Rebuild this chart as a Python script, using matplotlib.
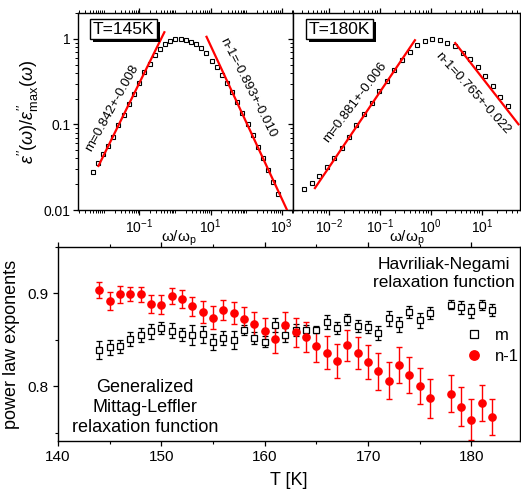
import numpy as np
import matplotlib
matplotlib.use("Agg")
import matplotlib.pyplot as plt
from matplotlib.ticker import LogLocator, FixedLocator, FixedFormatter, MultipleLocator, NullFormatter
import matplotlib.patheffects as pe

plt.rcParams['font.family'] = ['Liberation Sans', 'DejaVu Sans']
plt.rcParams['mathtext.fontset'] = 'custom'
plt.rcParams['mathtext.rm'] = 'Liberation Sans'
plt.rcParams['mathtext.it'] = 'Liberation Sans:italic'
plt.rcParams['mathtext.bf'] = 'Liberation Sans:bold'

# ---------------- data: top-left spectrum (T=145K) ----------------
w145 = [10**v for v in [-2.296, -2.155, -2.014, -1.882, -1.732, -1.592, -1.442, -1.301, -1.161,
                        -1.008, -0.859, -0.710, -0.569, -0.417, -0.276, -0.146, 0.006, 0.155,
                        0.296, 0.445, 0.586, 0.73, 0.879, 1.028, 1.169, 1.310, 1.459, 1.600,
                        1.752, 1.893, 2.042, 2.183, 2.332, 2.473, 2.625, 2.766, 2.907]]
e145 = [0.028, 0.0357, 0.0452, 0.0565, 0.072, 0.0995, 0.130, 0.172, 0.227,
        0.303, 0.404, 0.514, 0.645, 0.758, 0.875, 0.945, 0.985, 0.99,
        0.97, 0.92, 0.86, 0.785, 0.686, 0.549, 0.462, 0.379, 0.303, 0.236,
        0.182, 0.135, 0.1005, 0.0742, 0.055, 0.0401, 0.0293, 0.0215, 0.0154]

# ---------------- data: top-right spectrum (T=180K) ----------------
w180 = [10**v for v in [-2.486, -2.337, -2.200, -2.043, -1.898, -1.749, -1.604, -1.461, -1.310,
                        -1.161, -1.010, -0.859, -0.716, -0.573, -0.416, -0.271, -0.122, 0.029,
                        0.173, 0.324, 0.475, 0.624, 0.769, 0.918, 1.063, 1.212, 1.357, 1.506]]
e180 = [0.0176, 0.0205, 0.025, 0.0318, 0.0409, 0.0535, 0.0714, 0.098, 0.1315,
        0.180, 0.2445, 0.325, 0.4375, 0.561, 0.705, 0.839, 0.935, 0.99,
        0.975, 0.903, 0.828, 0.686, 0.574, 0.464, 0.367, 0.282, 0.211, 0.166]

# power-law fits: (slope, log10 prefactor, log10 x-range)
fit145_m = (0.842, 0.329, (-2.155, -0.30))
fit145_n = (-0.893, 0.815, (0.887, 3.3))
fit180_m = (0.881, 0.256, (-2.27, -0.31))
fit180_n = (-0.765, 0.317, (0.48, 1.72))

lab145_m = "m=0.842+-0.008"
lab145_n = "n-1=-0.893+-0.010"
lab180_m = "m=0.881+-0.006"
lab180_n = "n-1=0.765+-0.022"

# ---------------- data: bottom panel ----------------
T = [144, 145, 146, 147, 148, 149, 150, 151, 152, 153, 154, 155, 156, 157, 158, 159, 160,
     161, 162, 163, 164, 165, 166, 167, 168, 169, 170, 171, 172, 173, 174, 175, 176,
     178, 179, 180, 181, 182]
m_val = [0.839, 0.842, 0.843, 0.851, 0.855, 0.859, 0.863, 0.860, 0.856, 0.855, 0.856, 0.848,
         0.852, 0.850, 0.861, 0.852, 0.848, 0.866, 0.855, 0.861, 0.861, 0.861, 0.869, 0.863,
         0.872, 0.865, 0.864, 0.857, 0.873, 0.867, 0.880, 0.871, 0.879,
         0.888, 0.885, 0.881, 0.888, 0.882]
m_err = [0.0097, 0.0083, 0.0067, 0.0074, 0.0074, 0.0076, 0.0063, 0.0076, 0.0072, 0.011, 0.009,
         0.0085, 0.0076, 0.0094, 0.0054, 0.0067, 0.006, 0.008, 0.0072, 0.0065, 0.0054, 0.0041,
         0.0074, 0.0065, 0.0058, 0.0067, 0.0068, 0.0074, 0.0076, 0.0081, 0.0061, 0.0079, 0.0067,
         0.0045, 0.0067, 0.0072, 0.0054, 0.0065]
n_val = [0.9036, 0.892, 0.899, 0.899, 0.899, 0.889, 0.888, 0.897, 0.894, 0.886, 0.880, 0.874,
         0.882, 0.879, 0.872, 0.867, 0.860, 0.851, 0.866, 0.858, 0.853, 0.843, 0.836, 0.827,
         0.844, 0.836, 0.826, 0.816, 0.806, 0.823, 0.812, 0.800, 0.787,
         0.792, 0.778, 0.764, 0.782, 0.767]
n_err = [0.0083, 0.0095, 0.009, 0.0076, 0.0083, 0.0097, 0.010, 0.0083, 0.010, 0.010, 0.012,
         0.012, 0.011, 0.012, 0.013, 0.0135, 0.0135, 0.0157, 0.014, 0.0153, 0.016, 0.017,
         0.0176, 0.018, 0.0164, 0.0173, 0.018, 0.0196, 0.020, 0.019, 0.019, 0.0194, 0.021,
         0.0196, 0.021, 0.022, 0.019, 0.0196]

W, H = 521, 495
fig = plt.figure(figsize=(W / 100, H / 100), dpi=100)

def frac(l, t, r, b):
    return [l / W, 1 - b / H, (r - l) / W, (b - t) / H]

axL = fig.add_axes(frac(78, 13, 293, 210))
axR = fig.add_axes(frac(293, 13, 520, 210))
axB = fig.add_axes(frac(58, 247, 520, 441))

def style_log(ax):
    ax.set_xscale('log')
    ax.set_yscale('log')
    ax.set_ylim(0.01, 2.0)
    ax.yaxis.set_major_locator(FixedLocator([0.01, 0.1, 1]))
    ax.yaxis.set_major_formatter(FixedFormatter(['0.01', '0.1', '1']))
    ax.yaxis.set_minor_locator(LogLocator(base=10, subs=np.arange(2, 10), numticks=20))
    ax.yaxis.set_minor_formatter(NullFormatter())
    ax.xaxis.set_minor_locator(LogLocator(base=10, subs=np.arange(1, 10), numticks=30))
    ax.xaxis.set_minor_formatter(NullFormatter())
    ax.tick_params(which='both', direction='out', top=True, right=True, labelsize=10, pad=2)
    ax.tick_params(which='major', length=3.5, width=0.9)
    ax.tick_params(which='minor', length=2, width=0.7)
    for s in ax.spines.values():
        s.set_linewidth(1.0)

def fitline(ax, fit):
    slope, logA, (x0, x1) = fit
    lx = np.linspace(x0, x1, 50)
    ax.plot(10**lx, 10**(logA + slope * lx), color='#ff0000', lw=1.6, zorder=3)

def tbox(ax, txt):
    t = ax.text(0.07, 0.955, txt, transform=ax.transAxes, ha='left', va='top', fontsize=12.5,
                bbox=dict(boxstyle='square,pad=0.15', fc='white', ec='black', lw=1.0), zorder=5)
    t.get_bbox_patch().set_path_effects([pe.SimplePatchShadow(offset=(2, -2), shadow_rgbFace='black', alpha=1.0), pe.Normal()])

xlab_top = r"ω/ω$_{\mathrm{p}}$"

# top-left
style_log(axL)
axL.set_xlim(10**-2.73, 10**3.32)
axL.xaxis.set_major_locator(FixedLocator([1e-3, 1e-1, 1e1, 1e3]))
axL.plot(w145, e145, ls='none', marker='s', ms=3.4, mfc='white', mec='black', mew=0.8, zorder=2)
fitline(axL, fit145_m)
fitline(axL, fit145_n)
axL.text(10**-1.775, 10**-0.807, lab145_m, rotation=61, rotation_mode='anchor', ha='center', va='center', fontsize=9.5)
axL.text(10**2.056, 10**-0.573, lab145_n, rotation=-63, rotation_mode='anchor', ha='center', va='center', fontsize=9.5)
tbox(axL, 'T=145K')
axL.set_ylabel(r"$\varepsilon^{\prime\prime}(\omega)/\varepsilon^{\prime\prime}_{\mathrm{max}}(\omega)$", fontsize=13, labelpad=2)
axL.set_xlabel(xlab_top, fontsize=11)
axL.xaxis.set_label_coords(0.47, -0.145)
axL.xaxis.label.set_va('center')

# top-right
style_log(axR)
axR.set_xlim(10**-2.70, 10**1.75)
axR.xaxis.set_major_locator(FixedLocator([1e-2, 1e-1, 1e0, 1e1]))
axR.tick_params(labelleft=False)
axR.plot(w180, e180, ls='none', marker='s', ms=3.4, mfc='white', mec='black', mew=0.8, zorder=2)
fitline(axR, fit180_m)
fitline(axR, fit180_n)
axR.text(10**-1.48, 10**-0.743, lab180_m, rotation=53, rotation_mode='anchor', ha='center', va='center', fontsize=9.5)
axR.text(10**0.833, 10**-0.632, lab180_n, rotation=-48, rotation_mode='anchor', ha='center', va='center', fontsize=9.5)
tbox(axR, 'T=180K')
axR.set_xlabel(xlab_top, fontsize=11)
axR.xaxis.set_label_coords(0.5, -0.145)
axR.xaxis.label.set_va('center')

# bottom
axB.errorbar(T, m_val, yerr=m_err, fmt='none', ecolor='black', elinewidth=0.9, capsize=2.2, capthick=0.9, zorder=2)
axB.errorbar(T, n_val, yerr=n_err, fmt='none', ecolor='#ff0000', elinewidth=1.0, capsize=2.2, capthick=1.0, zorder=2)
axB.plot(T, m_val, ls='none', marker='s', ms=4.0, mfc='white', mec='black', mew=0.9, label='m', zorder=3)
axB.plot(T, n_val, ls='none', marker='o', ms=5.2, mfc='#ff0000', mec='#ff0000', label='n-1', zorder=3)
axB.set_xlim(140, 184.7)
axB.set_ylim(0.741, 0.950)
axB.xaxis.set_major_locator(MultipleLocator(10))
axB.xaxis.set_minor_locator(MultipleLocator(5))
axB.yaxis.set_major_locator(FixedLocator([0.8, 0.9]))
axB.yaxis.set_major_formatter(FixedFormatter(['0.8', '0.9']))
axB.yaxis.set_minor_locator(MultipleLocator(0.05))
axB.tick_params(which='both', direction='out', top=True, right=True, labelsize=11, pad=3)
axB.tick_params(which='major', length=3.5, width=0.9)
axB.tick_params(which='minor', length=2.5, width=0.8)
for s in axB.spines.values():
    s.set_linewidth(1.0)
axB.set_xlabel('T [K]', fontsize=13, labelpad=6)
axB.set_ylabel('power law exponents', fontsize=13, labelpad=6)
axB.text(177.3, 0.921, 'Havriliak-Negami\nrelaxation function', ha='center', va='center', fontsize=12.5, linespacing=1.25)
axB.text(148.4, 0.777, 'Generalized\nMittag-Leffler\nrelaxation function', ha='center', va='center', fontsize=13, linespacing=1.22)
axB.legend(loc='center', bbox_to_anchor=(0.94, 0.49), frameon=False, fontsize=12, markerscale=1.3,
           handlelength=1.0, handletextpad=0.8, labelspacing=0.35)

fig.savefig('out.png', dpi=100)
